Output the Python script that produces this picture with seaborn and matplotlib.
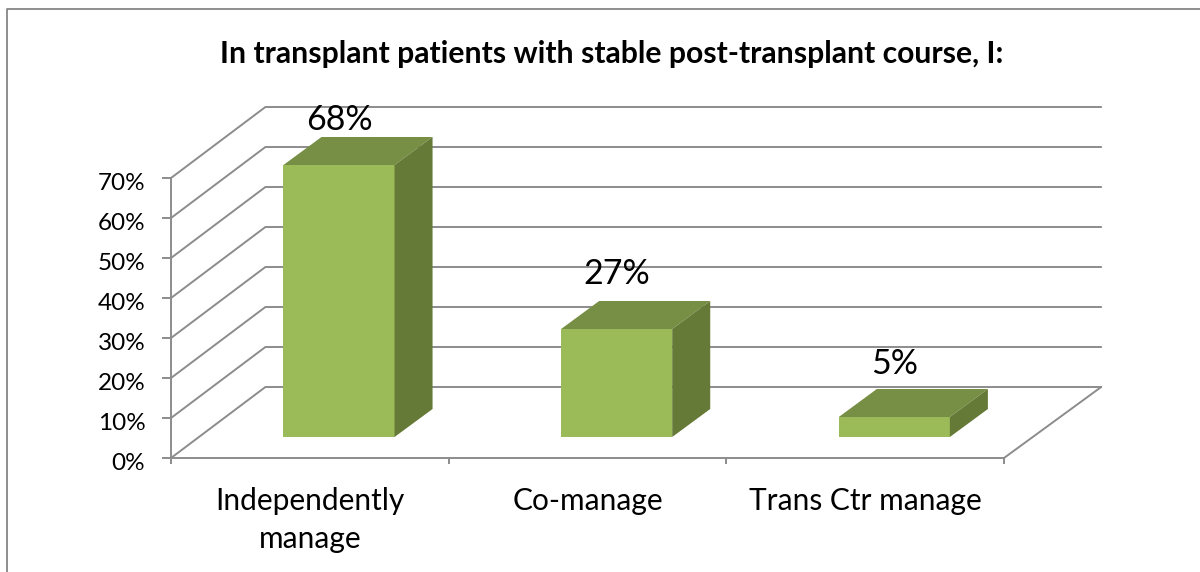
import matplotlib
matplotlib.use("Agg")
import matplotlib.pyplot as plt
from matplotlib.lines import Line2D
from matplotlib.patches import Polygon
from matplotlib.transforms import ScaledTranslation
import seaborn as sns

# values
categories = ["Independently\nmanage", "Co-manage", "Trans Ctr manage"]
values = [68, 27, 5]
value_labels = ["68%", "27%", "5%"]
y_ticks = [0, 10, 20, 30, 40, 50, 60, 70]
y_tick_labels = ["0%", "10%", "20%", "30%", "40%", "50%", "60%", "70%"]
title = "In transplant patients with stable post-transplant course, I:"

# fake 3d depth, in data units (1 category = 277.67px, 1% = 4px)
wall_dx, wall_dy = 0.34, 17.75
wall_end_dx = 0.35
bar_shift, bar_base = 0.105, 5.25
bar_dx, bar_dy = 0.137, 7.0
label_lift = [11.3, 13.8, 13.2]

front = "#9BBB59"
top_face = "#778F45"
side_face = "#667A37"
grey = "#8C8C8C"

sns.set_theme(style="white")
plt.rcParams["font.family"] = ["Lato", "DejaVu Sans"]

fig = plt.figure(figsize=(12, 5.72), dpi=100)
ax = fig.add_axes([171 / 1200, (572 - 458) / 572, 833 / 1200, 280 / 572])

sns.barplot(x=categories, y=values, bottom=bar_base, width=0.4, color=front,
            saturation=1, linewidth=0, ax=ax, zorder=3)
ax.set_xlim(-0.5, 2.5)
ax.set_ylim(0, 70)

# walls and floor
x0, x1 = -0.5, 2.5
for t in y_ticks:
    ax.plot([x0, x0 + wall_dx, x1 + wall_end_dx], [t, t + wall_dy, t + wall_dy],
            color=grey, lw=1.4, clip_on=False, zorder=1)
ax.plot([x1, x1 + wall_end_dx], [0, wall_dy], color=grey, lw=1.4, clip_on=False, zorder=1)

# shift the bars onto the floor and add the top and side faces
for i, p in enumerate(ax.patches):
    p.set_x(p.get_x() + bar_shift)
    p.set_clip_on(False)
    l = p.get_x()
    r = l + p.get_width()
    b = p.get_y()
    t = b + p.get_height()
    ax.add_patch(Polygon([(l, t), (r, t), (r + bar_dx, t + bar_dy), (l + bar_dx, t + bar_dy)],
                         closed=True, fc=top_face, ec="none", clip_on=False, zorder=3))
    ax.add_patch(Polygon([(r, b), (r, t), (r + bar_dx, t + bar_dy), (r + bar_dx, b + bar_dy)],
                         closed=True, fc=side_face, ec="none", clip_on=False, zorder=3))
    ax.text(l + p.get_width() / 2, values[i] + bar_base + label_lift[i], value_labels[i],
            ha="center", va="center", fontsize=24.5, color="black", clip_on=False, zorder=4)

# axes
for s in ["top", "right"]:
    ax.spines[s].set_visible(False)
for s in ["left", "bottom"]:
    ax.spines[s].set_color(grey)
    ax.spines[s].set_linewidth(1.4)
ax.set_yticks(y_ticks)
ax.set_yticklabels(y_tick_labels, fontsize=17.5, color="black")
ax.tick_params(axis="y", left=True, length=6.5, width=1.4, color=grey, pad=12)
for lab in ax.get_yticklabels():
    lab.set_transform(lab.get_transform() + ScaledTranslation(0, -3 / 100, fig.dpi_scale_trans))
ax.set_xticks([-0.5, 0.5, 1.5, 2.5])
ax.set_xticklabels([])
ax.tick_params(axis="x", which="major", bottom=True, length=4.5, width=1.4, color=grey)
ax.set_xticks([0, 1, 2], minor=True)
ax.set_xticklabels(categories, minor=True, fontsize=21.5, color="black", linespacing=1.41)
ax.tick_params(axis="x", which="minor", bottom=False, length=0, pad=21)

fig.text(612 / 1200, 1 - 54 / 572, title, ha="center", va="center",
         fontsize=21.7, fontweight="bold", color="black")

# chart frame, only top and left show up in the crop
fig.add_artist(Line2D([6.5 / 1200, 6.5 / 1200, 1], [0, 1 - 8.5 / 572, 1 - 8.5 / 572],
                      color="#868686", lw=1.3))

fig.savefig("out.png", dpi=100)
